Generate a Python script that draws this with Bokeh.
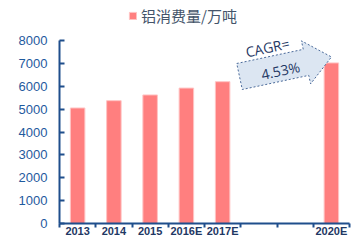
import math
from bokeh.plotting import figure
from bokeh.models import Range1d, FixedTicker, Legend, LegendItem, ColumnDataSource
from bokeh.core.properties import value
from bokeh.embed import file_html
from bokeh.resources import INLINE

# ---- data ----
categories = ["2013", "2014", "2015", "2016E", "2017E", "", "", "2020E"]
consumption = [5050, 5370, 5620, 5920, 6200, None, None, 7020]
y_ticks = [0, 1000, 2000, 3000, 4000, 5000, 6000, 7000, 8000]
series_name = "铝消费量/万吨"
cagr_label = "CAGR="
cagr_value = "4.53%"

# ---- layout ----
W, H = 361, 247
L, R, B = 59, 12, 24
TOP_PX = 40                      # pixel row of the axis top (8000)
NCAT = len(categories)
YMAX = 8000
YEND = YMAX * (H - B) / (H - B - TOP_PX)   # frame runs to the canvas top
AXIS = "#1F4E8C"

p = figure(width=W, height=H, x_range=Range1d(0, NCAT), y_range=Range1d(0, YEND),
           output_backend="svg", toolbar_location=None,
           min_border_left=L, min_border_right=R, min_border_top=0, min_border_bottom=B)
p.outline_line_color = None
p.grid.visible = False
p.background_fill_color = "white"

xs = [i + 0.5 for i, v in enumerate(consumption) if v is not None]
vals = [v for v in consumption if v is not None]
src = ColumnDataSource(dict(x=xs, top=vals))
bars = p.vbar(x="x", top="top", width=0.4, bottom=0, source=src,
              fill_color="#FF7F7F", line_color="#FFC4C4", line_width=1)

# x axis
xa = p.xaxis[0]
label_ticks = [i + 0.5 for i, c in enumerate(categories) if c]
xa.ticker = FixedTicker(ticks=label_ticks, minor_ticks=list(range(NCAT + 1)))
xa.major_label_overrides = {i + 0.5: c for i, c in enumerate(categories) if c}
xa.major_tick_in = 0
xa.major_tick_out = 0
xa.minor_tick_in = 0
xa.minor_tick_out = 4
xa.minor_tick_line_color = AXIS
xa.minor_tick_line_width = 2
xa.axis_line_color = AXIS
xa.axis_line_width = 2
xa.major_label_standoff = -3
xa.major_label_text_font = "Liberation Sans"
xa.major_label_text_font_style = "bold"
xa.major_label_text_font_size = "11px"
xa.major_label_text_color = "#1F3864"

# y axis
ya = p.yaxis[0]
ya.bounds = (0, YMAX)
ya.ticker = FixedTicker(ticks=y_ticks)
ya.major_tick_in = 5
ya.major_tick_out = 0
ya.major_tick_line_color = AXIS
ya.major_tick_line_width = 2
ya.minor_tick_line_color = None
ya.axis_line_color = AXIS
ya.axis_line_width = 2
ya.major_label_standoff = 12
ya.major_label_text_font = "Liberation Sans"
ya.major_label_text_font_size = "13px"
ya.major_label_text_color = "#1F5A9E"

# ---- CAGR arrow (built in pixel space, converted to data space) ----
def to_data(sx, sy):
    return ((sx - L) / (W - L - R) * NCAT, (H - B - sy) / (H - B) * YEND)

cx, cy = 239.0, 76.0
th = math.radians(12)
Ls, Lh, hs, hh = 68.0, 26.0, 13.3, 22.0
d = (math.cos(th), -math.sin(th))
n = (-math.sin(th), -math.cos(th))
def pt(u, v):
    return (cx + u * d[0] + v * n[0], cy + u * d[1] + v * n[1])
poly = [pt(0, hs), pt(Ls, hs), pt(Ls, hh), pt(Ls + Lh, 0), pt(Ls, -hh), pt(Ls, -hs), pt(0, -hs)]
dpoly = [to_data(*q) for q in poly]
p.patch([q[0] for q in dpoly], [q[1] for q in dpoly], fill_color="#DCE6F2",
        line_color="#4A6A9A", line_width=1, line_dash="2 2")

t1 = to_data(267, 47)
t2 = to_data(280, 70)
p.text(x=[t1[0], t2[0]], y=[t1[1], t2[1]], text=[cagr_label, cagr_value], angle=th,
       text_align="center", text_baseline="middle", text_font=value("Open Sans"),
       text_font_size="14px", text_color="#1F3864")

# legend (inside the tall frame, above the axis top)
legend = Legend(items=[LegendItem(label=series_name, renderers=[bars])],
                location=(69, 197), orientation="horizontal",
                border_line_color=None, background_fill_alpha=0,
                padding=0, margin=0, spacing=0,
                glyph_width=9, glyph_height=9, label_standoff=4,
                label_text_font="Noto Sans CJK SC", label_text_font_size="15px",
                label_text_color="#44546A")
p.add_layout(legend)

open("out.html", "w").write(file_html(p, INLINE))
